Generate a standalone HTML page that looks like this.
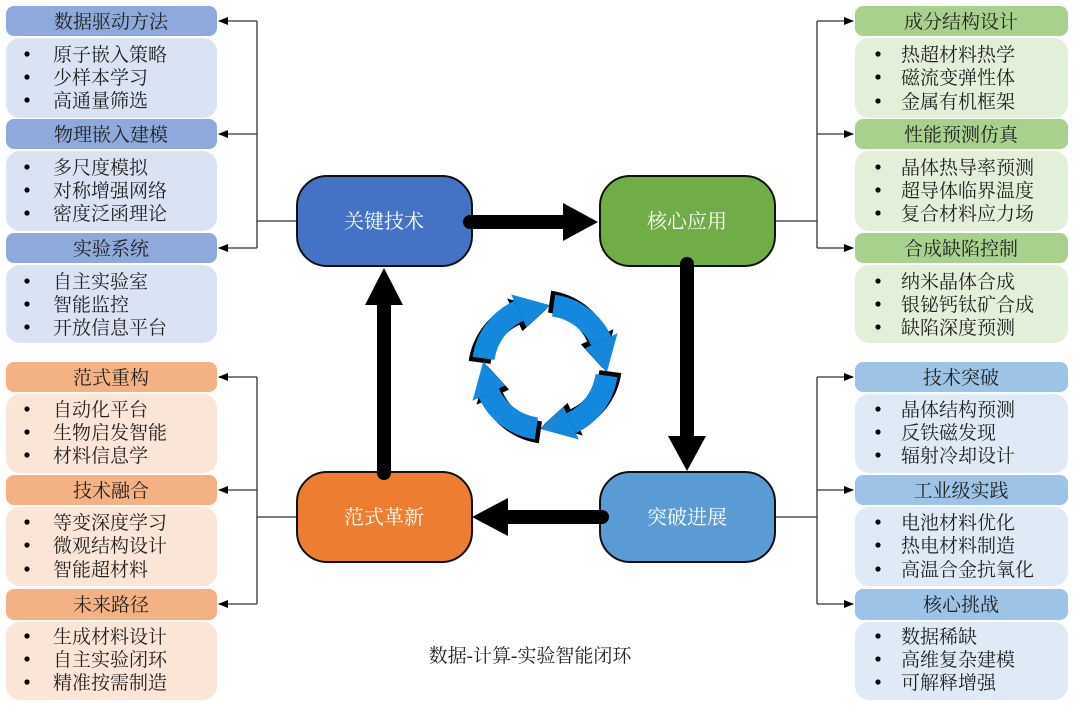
<!DOCTYPE html>
<html><head><meta charset="utf-8"><style>
html,body{margin:0;padding:0;background:#fff;}
svg{display:block;}
text{font-family:"Liberation Serif","Noto Serif CJK SC","Noto Sans CJK SC",serif;}
.h{font-size:19px;fill:#222;text-anchor:middle;}
.l{font-size:19px;fill:#222;}
.n{font-size:20px;fill:#fff;text-anchor:middle;}
</style></head><body>
<svg width="1080" height="707" viewBox="0 0 1080 707" xmlns="http://www.w3.org/2000/svg">
<defs>
<marker id="ah" markerWidth="10" markerHeight="10" refX="9" refY="5" orient="auto" markerUnits="userSpaceOnUse"><path d="M0,1 L10,5 L0,9 Z" fill="#000"/></marker>
</defs>

<g>
<rect x="6" y="6" width="211" height="30" rx="8" fill="#8EA9DB"/>
<text class="h" x="111" y="28">数据驱动方法</text>
<rect x="6" y="38" width="211" height="80" rx="14" fill="#DAE3F3"/>
<circle cx="27" cy="54" r="2.6" fill="#000"/><text class="l" x="53" y="61">原子嵌入策略</text>
<circle cx="27" cy="77" r="2.6" fill="#000"/><text class="l" x="53" y="84">少样本学习</text>
<circle cx="27" cy="100" r="2.6" fill="#000"/><text class="l" x="53" y="107">高通量筛选</text>

<rect x="6" y="119" width="211" height="30" rx="8" fill="#8EA9DB"/>
<text class="h" x="111" y="141">物理嵌入建模</text>
<rect x="6" y="151" width="211" height="80" rx="14" fill="#DAE3F3"/>
<circle cx="27" cy="167" r="2.6" fill="#000"/><text class="l" x="53" y="174">多尺度模拟</text>
<circle cx="27" cy="190" r="2.6" fill="#000"/><text class="l" x="53" y="197">对称增强网络</text>
<circle cx="27" cy="213" r="2.6" fill="#000"/><text class="l" x="53" y="220">密度泛函理论</text>

<rect x="6" y="233" width="211" height="30" rx="8" fill="#8EA9DB"/>
<text class="h" x="111" y="255">实验系统</text>
<rect x="6" y="265" width="211" height="78" rx="14" fill="#DAE3F3"/>
<circle cx="27" cy="281" r="2.6" fill="#000"/><text class="l" x="53" y="288">自主实验室</text>
<circle cx="27" cy="304" r="2.6" fill="#000"/><text class="l" x="53" y="311">智能监控</text>
<circle cx="27" cy="327" r="2.6" fill="#000"/><text class="l" x="53" y="334">开放信息平台</text>
</g>

<g>
<rect x="6" y="362" width="211" height="30" rx="8" fill="#F4B183"/>
<text class="h" x="111" y="384">范式重构</text>
<rect x="6" y="394" width="211" height="79" rx="14" fill="#FBE5D6"/>
<circle cx="27" cy="409" r="2.6" fill="#000"/><text class="l" x="53" y="416">自动化平台</text>
<circle cx="27" cy="432" r="2.6" fill="#000"/><text class="l" x="53" y="439">生物启发智能</text>
<circle cx="27" cy="455" r="2.6" fill="#000"/><text class="l" x="53" y="462">材料信息学</text>

<rect x="6" y="475" width="211" height="30" rx="8" fill="#F4B183"/>
<text class="h" x="111" y="497">技术融合</text>
<rect x="6" y="507" width="211" height="79" rx="14" fill="#FBE5D6"/>
<circle cx="27" cy="522" r="2.6" fill="#000"/><text class="l" x="53" y="529">等变深度学习</text>
<circle cx="27" cy="545" r="2.6" fill="#000"/><text class="l" x="53" y="552">微观结构设计</text>
<circle cx="27" cy="569" r="2.6" fill="#000"/><text class="l" x="53" y="576">智能超材料</text>

<rect x="6" y="589" width="211" height="31" rx="8" fill="#F4B183"/>
<text class="h" x="111" y="611">未来路径</text>
<rect x="6" y="622" width="211" height="78" rx="14" fill="#FBE5D6"/>
<circle cx="27" cy="636" r="2.6" fill="#000"/><text class="l" x="53" y="643">生成材料设计</text>
<circle cx="27" cy="659" r="2.6" fill="#000"/><text class="l" x="53" y="666">自主实验闭环</text>
<circle cx="27" cy="682" r="2.6" fill="#000"/><text class="l" x="53" y="689">精准按需制造</text>
</g>

<g>
<rect x="855" y="6" width="213" height="30" rx="8" fill="#A9D18E"/>
<text class="h" x="961" y="28">成分结构设计</text>
<rect x="855" y="38" width="213" height="80" rx="14" fill="#E2F0D9"/>
<circle cx="878" cy="54" r="2.6" fill="#000"/><text class="l" x="901" y="61">热超材料热学</text>
<circle cx="878" cy="77" r="2.6" fill="#000"/><text class="l" x="901" y="84">磁流变弹性体</text>
<circle cx="878" cy="101" r="2.6" fill="#000"/><text class="l" x="901" y="108">金属有机框架</text>

<rect x="855" y="119" width="213" height="30" rx="8" fill="#A9D18E"/>
<text class="h" x="961" y="141">性能预测仿真</text>
<rect x="855" y="151" width="213" height="80" rx="14" fill="#E2F0D9"/>
<circle cx="878" cy="167" r="2.6" fill="#000"/><text class="l" x="901" y="174">晶体热导率预测</text>
<circle cx="878" cy="190" r="2.6" fill="#000"/><text class="l" x="901" y="197">超导体临界温度</text>
<circle cx="878" cy="213" r="2.6" fill="#000"/><text class="l" x="901" y="220">复合材料应力场</text>

<rect x="855" y="233" width="213" height="30" rx="8" fill="#A9D18E"/>
<text class="h" x="961" y="255">合成缺陷控制</text>
<rect x="855" y="265" width="213" height="78" rx="14" fill="#E2F0D9"/>
<circle cx="878" cy="281" r="2.6" fill="#000"/><text class="l" x="901" y="288">纳米晶体合成</text>
<circle cx="878" cy="304" r="2.6" fill="#000"/><text class="l" x="901" y="311">银铋钙钛矿合成</text>
<circle cx="878" cy="327" r="2.6" fill="#000"/><text class="l" x="901" y="334">缺陷深度预测</text>
</g>

<g>
<rect x="855" y="362" width="213" height="30" rx="8" fill="#9DC3E6"/>
<text class="h" x="961" y="384">技术突破</text>
<rect x="855" y="394" width="213" height="79" rx="14" fill="#DEEBF7"/>
<circle cx="878" cy="409" r="2.6" fill="#000"/><text class="l" x="901" y="416">晶体结构预测</text>
<circle cx="878" cy="432" r="2.6" fill="#000"/><text class="l" x="901" y="439">反铁磁发现</text>
<circle cx="878" cy="455" r="2.6" fill="#000"/><text class="l" x="901" y="462">辐射冷却设计</text>

<rect x="855" y="475" width="213" height="30" rx="8" fill="#9DC3E6"/>
<text class="h" x="961" y="497">工业级实践</text>
<rect x="855" y="507" width="213" height="79" rx="14" fill="#DEEBF7"/>
<circle cx="878" cy="522" r="2.6" fill="#000"/><text class="l" x="901" y="529">电池材料优化</text>
<circle cx="878" cy="545" r="2.6" fill="#000"/><text class="l" x="901" y="552">热电材料制造</text>
<circle cx="878" cy="569" r="2.6" fill="#000"/><text class="l" x="901" y="576">高温合金抗氧化</text>

<rect x="855" y="589" width="213" height="31" rx="8" fill="#9DC3E6"/>
<text class="h" x="961" y="611">核心挑战</text>
<rect x="855" y="622" width="213" height="78" rx="14" fill="#DEEBF7"/>
<circle cx="878" cy="636" r="2.6" fill="#000"/><text class="l" x="901" y="643">数据稀缺</text>
<circle cx="878" cy="659" r="2.6" fill="#000"/><text class="l" x="901" y="666">高维复杂建模</text>
<circle cx="878" cy="682" r="2.6" fill="#000"/><text class="l" x="901" y="689">可解释增强</text>
</g>

<g stroke="#333" stroke-width="1.3" fill="none">
<path d="M296,221 H257 M257,21 V248"/>
<path d="M257,21 H219" marker-end="url(#ah)"/>
<path d="M257,134 H219" marker-end="url(#ah)"/>
<path d="M257,248 H219" marker-end="url(#ah)"/>
<path d="M296,517 H257 M257,377 V604"/>
<path d="M257,377 H219" marker-end="url(#ah)"/>
<path d="M257,490 H219" marker-end="url(#ah)"/>
<path d="M257,604 H219" marker-end="url(#ah)"/>
<path d="M775,221 H817 M817,21 V248"/>
<path d="M817,21 H853" marker-end="url(#ah)"/>
<path d="M817,134 H853" marker-end="url(#ah)"/>
<path d="M817,248 H853" marker-end="url(#ah)"/>
<path d="M775,517 H817 M817,377 V604"/>
<path d="M817,377 H853" marker-end="url(#ah)"/>
<path d="M817,490 H853" marker-end="url(#ah)"/>
<path d="M817,604 H853" marker-end="url(#ah)"/>
</g>

<rect x="297" y="176" width="175" height="90" rx="30" fill="#4472C4" stroke="#111" stroke-width="2"/>
<text class="n" x="384" y="228">关键技术</text>
<rect x="600" y="176" width="175" height="90" rx="30" fill="#70AD47" stroke="#111" stroke-width="2"/>
<text class="n" x="687" y="228">核心应用</text>
<rect x="600" y="472" width="175" height="90" rx="30" fill="#5B9BD5" stroke="#111" stroke-width="2"/>
<text class="n" x="687" y="524">突破进展</text>
<rect x="297" y="472" width="175" height="90" rx="30" fill="#ED7D31" stroke="#111" stroke-width="2"/>
<text class="n" x="384" y="524">范式革新</text>

<g fill="#000" stroke="#000">
<line x1="470" y1="222" x2="566" y2="222" stroke-width="14" stroke-linecap="round"/>
<polygon points="563,203 598,222 563,241" stroke="none"/>
<line x1="687" y1="264" x2="687" y2="440" stroke-width="14" stroke-linecap="round"/>
<polygon points="668,436 687,471 706,436" stroke="none"/>
<line x1="602" y1="517" x2="505" y2="517" stroke-width="14" stroke-linecap="round"/>
<polygon points="508,498 472,517 508,536" stroke="none"/>
<line x1="384" y1="473" x2="384" y2="302" stroke-width="14" stroke-linecap="round"/>
<polygon points="365,305 384,268 403,305" stroke="none"/>
</g>

<g transform="translate(545,367)">
<g id="arw">
<g transform="translate(-4,4)" fill="#000">
<path d="M -61.4,-8.6 A 62 62 0 0 1 -26.2,-56.2" stroke="#000" stroke-width="22" fill="none"/>
<polygon points="-18.6,-39.9 -33.8,-72.5 5.4,-61.8"/>
</g>
<path d="M -61.4,-8.6 A 62 62 0 0 1 -26.2,-56.2" stroke="#1388DD" stroke-width="22" fill="none"/>
<polygon points="-18.6,-39.9 -33.8,-72.5 5.4,-61.8" fill="#1388DD"/>
</g>
<use href="#arw" transform="rotate(90)"/>
<use href="#arw" transform="rotate(180)"/>
<use href="#arw" transform="rotate(270)"/>
</g>

<text x="530" y="662" style="font-size:19px;fill:#222;text-anchor:middle;">数据-计算-实验智能闭环</text>
</svg>
</body></html>
